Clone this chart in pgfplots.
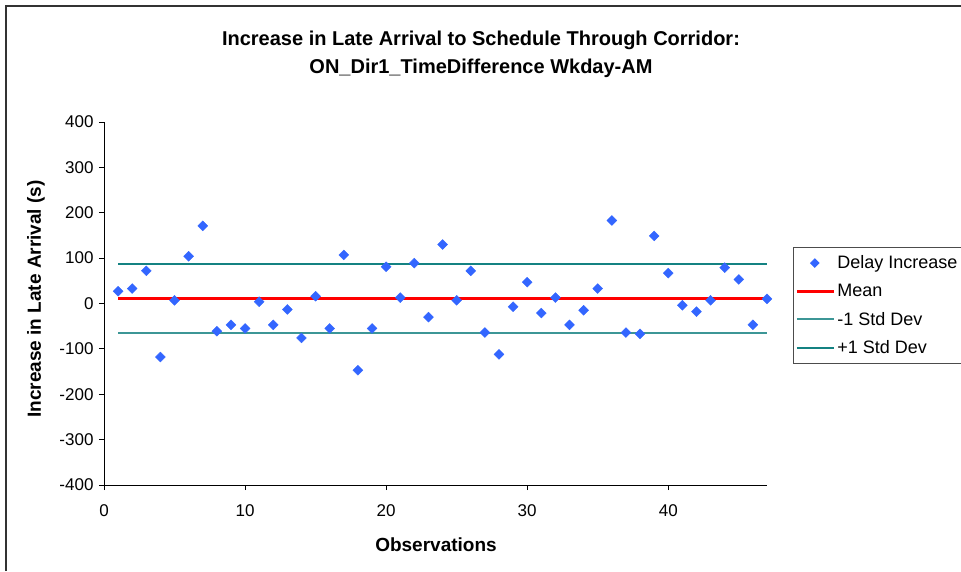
\documentclass[border=0pt]{standalone}
\usepackage{pgfplots}
\pgfplotsset{compat=1.18}
\usepackage{fontspec}
\setmainfont{Liberation Sans}
\definecolor{dotblue}{RGB}{51,102,255}
\definecolor{stdlow}{RGB}{60,150,150}
\definecolor{stdhigh}{RGB}{20,130,130}
\begin{document}
\begin{tikzpicture}
\useasboundingbox (0pt,0pt) rectangle (961pt,571pt);
\draw[line width=2pt, black!80] (6pt,0pt) -- (6pt,565pt) -- (961pt,565pt);
\node[font=\fontsize{20}{23}\selectfont\bfseries] at (481pt,531pt) {Increase in Late Arrival to Schedule Through Corridor:};
\node[font=\fontsize{20}{23}\selectfont\bfseries] at (481pt,503pt) {ON\_Dir1\_TimeDifference Wkday-AM};
\node[font=\fontsize{19}{22}\selectfont\bfseries, rotate=90] at (36pt,272pt) {Increase in Late Arrival (s)};
\node[font=\fontsize{19}{22}\selectfont\bfseries] at (436pt,26pt) {Observations};
\begin{axis}[
  at={(104pt,86pt)}, anchor=south west,
  scale only axis, width=663pt, height=363pt,
  xmin=0, xmax=47, ymin=-400, ymax=400,
  xtick={0,10,20,30,40}, ytick={-400,-300,-200,-100,0,100,200,300,400},
  axis x line*=bottom, axis y line*=left,
  x axis line style={-}, y axis line style={-},
  tick align=outside, major tick length=5pt,
  tick style={black, line width=0.8pt},
  axis line style={black, line width=0.8pt},
  ticklabel style={font=\fontsize{17}{20}\selectfont},
  /pgf/number format/assume math mode=true,
  xticklabel style={yshift=-11pt},
  yticklabel style={xshift=-2pt},
  clip=false,
  legend style={at={(1.039,0.656)}, anchor=north west, draw=black!70, line width=0.8pt,
    font=\fontsize{18}{21}\selectfont, row sep=10pt, inner xsep=2pt, inner ysep=6.5pt,
    cells={anchor=west}, legend cell align=left},
  legend image code/.code={\draw[#1] (0pt,0pt) -- (37pt,0pt);},
]
\addplot[only marks, mark=square*, mark size=3.5pt, mark options={rotate=45, fill=dotblue, draw=dotblue},
  legend image code/.code={\draw[mark=square*, mark size=3pt, mark options={rotate=45, fill=dotblue, draw=dotblue}] plot coordinates {(18pt,0pt)};}]
coordinates {
(1,27) (2,33) (3,72) (4,-118) (5,7) (6,104) (7,171) (8,-61) (9,-47) (10,-55)
(11,4) (12,-47) (13,-13) (14,-76) (15,16) (16,-55) (17,107) (18,-147) (19,-55) (20,81)
(21,13) (22,89) (23,-30) (24,130) (25,7) (26,72) (27,-64) (28,-112) (29,-7) (30,47)
(31,-21) (32,13) (33,-47) (34,-15) (35,33) (36,183) (37,-64) (38,-67) (39,149) (40,67)
(41,-4) (42,-18) (43,7) (44,79) (45,53) (46,-47) (47,10)
};
\addlegendentry{Delay Increase}
\addplot[color=red, line width=3pt] coordinates {(1,10) (47,10)};
\addlegendentry{Mean}
\addplot[color=stdlow, line width=2pt] coordinates {(1,-66) (47,-66)};
\addlegendentry{-1 Std Dev}
\addplot[color=stdhigh, line width=2pt] coordinates {(1,86) (47,86)};
\addlegendentry{+1 Std Dev}
\end{axis}
\end{tikzpicture}
\end{document}
